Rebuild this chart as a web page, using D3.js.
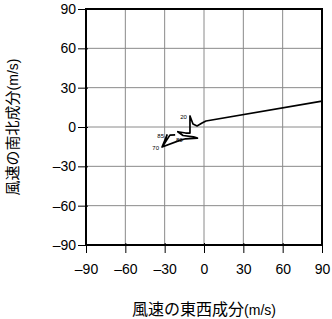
<!DOCTYPE html>
<html>
<head>
<meta charset="utf-8">
<script src="https://cdn.jsdelivr.net/npm/d3@7"></script>
<style>
  body { margin: 0; background: #fff; }
  svg { display: block; }
  .tick text { font-family: "Liberation Sans", Arial, sans-serif; font-size: 14px; fill: #000; }
</style>
</head>
<body>
<div id="chart"></div>
<script>
// hodograph: east-west (u) and north-south (v) wind components
var u_values = [90, 1.5, -1.5, -5.3, -8.4, -10.7, -10.7, -14, -20, -16, -8, -5, -14, -18, -32, -28.2, -30.8, -26, -22]
var v_values = [19.8, 4.6, 3.0, 0.8, 2.3, 8.4, -4.6, -4.6, -3.6, -6.5, -7.5, -8.5, -9.0, -10, -15.3, -6.1, -13.5, -6.2, -6.0]
var level_labels = ['', '', '', '', '', '20', '', '', '', '', '', '', '80', '', '70', '85', '', '', '']
var tick_values = [-90, -60, -30, 0, 30, 60, 90]

var size = ({width: 332, height: 319})
var margin = ({top: 9, right: 10, bottom: 74, left: 86})

var x = d3.scaleLinear()
    .domain([-90, 90])
    .range([margin.left, size.width - margin.right])

var y = d3.scaleLinear()
    .domain([-90, 90])
    .range([size.height - margin.bottom, margin.top])

var fmt = d => d < 0 ? '\u2013' + Math.abs(d) : '' + d

const svg = d3.select('#chart')
    .append('svg')
    .attr('width', size.width)
    .attr('height', size.height)

// grid
svg.append('g')
    .selectAll('line')
    .data(tick_values.slice(1, -1))
    .join('line')
        .attr('x1', d => x(d)).attr('x2', d => x(d))
        .attr('y1', y(-90)).attr('y2', y(90))
        .attr('stroke', '#8a8a8a')
        .attr('stroke-width', 1)

svg.append('g')
    .selectAll('line')
    .data(tick_values.slice(1, -1))
    .join('line')
        .attr('y1', d => y(d)).attr('y2', d => y(d))
        .attr('x1', x(-90)).attr('x2', x(90))
        .attr('stroke', '#8a8a8a')
        .attr('stroke-width', 1)

// axes
var xAxis = g => g
    .attr('transform', `translate(0, ${y(-90) - 2})`)
    .call(d3.axisBottom(x).tickValues(tick_values).tickFormat(fmt).tickSize(10).tickPadding(11))
    .call(g => g.select('.domain').remove())

var yAxis = g => g
    .attr('transform', `translate(${x(-90) + 2}, 0)`)
    .call(d3.axisLeft(y).tickValues(tick_values).tickFormat(fmt).tickSize(10).tickPadding(2))
    .call(g => g.select('.domain').remove())

svg.append('g').call(xAxis)
svg.append('g').call(yAxis)
svg.selectAll('.tick line').attr('stroke', '#000').attr('stroke-width', 1)

// frame
svg.append('rect')
    .attr('x', x(-90))
    .attr('y', y(90))
    .attr('width', x(90) - x(-90))
    .attr('height', y(-90) - y(90))
    .attr('fill', 'none')
    .attr('stroke', '#000')
    .attr('stroke-width', 2)

// trajectory
var pts = u_values.map((u, i) => ({u: u, v: v_values[i], label: level_labels[i]}))

var line = d3.line()
    .x(d => x(d.u))
    .y(d => y(d.v))

svg.append('path')
    .datum(pts)
    .attr('fill', 'none')
    .attr('stroke', '#000')
    .attr('stroke-width', 1.7)
    .attr('stroke-linejoin', 'round')
    .attr('d', line)

svg.append('g')
    .selectAll('text')
    .data(pts.filter(d => d.label !== ''))
    .join('text')
        .attr('x', d => x(d.u) - 3)
        .attr('y', d => y(d.v) + 3)
        .attr('text-anchor', 'end')
        .attr('font-family', 'Liberation Sans, Arial, sans-serif')
        .attr('font-size', 6)
        .text(d => d.label)

// axis titles
var xTitle = svg.append('text')
    .attr('x', (x(-90) + x(90)) / 2)
    .attr('y', 315)
    .attr('text-anchor', 'middle')
xTitle.append('tspan')
    .attr('font-family', 'Noto Sans CJK JP')
    .attr('font-size', 16)
    .text('風速の東西成分')
xTitle.append('tspan')
    .attr('font-family', 'Liberation Sans, Arial, sans-serif')
    .attr('font-size', 14)
    .text('(m/s)')

var yTitle = svg.append('text')
    .attr('transform', `translate(18, ${(y(-90) + y(90)) / 2}) rotate(-90)`)
    .attr('text-anchor', 'middle')
yTitle.append('tspan')
    .attr('font-family', 'Noto Sans CJK JP')
    .attr('font-size', 15)
    .text('風速の南北成分')
yTitle.append('tspan')
    .attr('font-family', 'Liberation Sans, Arial, sans-serif')
    .attr('font-size', 14)
    .text('(m/s)')
</script>
</body>
</html>
